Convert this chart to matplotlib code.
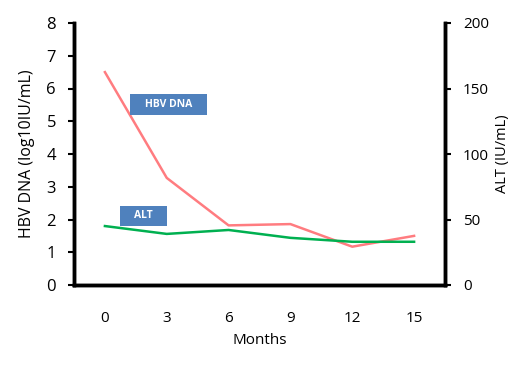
import matplotlib.pyplot as plt
from matplotlib.patches import Rectangle

months = ["0", "3", "6", "9", "12", "15"]
hbv_dna = [6.5, 3.27, 1.82, 1.86, 1.17, 1.5]
alt = [45, 39, 42, 36, 33, 33]

plt.rcParams["font.family"] = ["Open Sans", "DejaVu Sans"]

fig = plt.figure(figsize=(5.3, 3.75), dpi=100)
ax = fig.add_axes([74 / 530, 1 - 285 / 375, (445 - 74) / 530, (285 - 23) / 375])
ax2 = ax.twinx()

x = range(len(months))
ax.plot(x, hbv_dna, color="#FF7C80", lw=1.8)
ax2.plot(x, alt, color="#00B050", lw=1.8)

ax.set_xlim(-0.5, len(months) - 0.5)
ax.set_ylim(0, 8)
ax2.set_ylim(0, 200)
ax.set_xticks(list(x))
ax.set_xticklabels(months)
ax.set_yticks(range(0, 9))
ax2.set_yticks(range(0, 201, 50))

for a in (ax, ax2):
    for s in a.spines.values():
        s.set_linewidth(2.5)
    a.spines["top"].set_visible(False)
ax.tick_params(axis="y", length=4, width=1.5, labelsize=12, pad=9)
ax2.tick_params(axis="y", length=4, width=1.5, labelsize=11, pad=9)
ax.tick_params(axis="x", length=0, pad=19, labelsize=11)

ax.set_ylabel("HBV DNA (log10IU/mL)", fontsize=11.5, labelpad=8)
ax2.set_ylabel("ALT (IU/mL)", fontsize=10.5, labelpad=4)
ax.set_xlabel("Months", fontsize=11, labelpad=5)

# label boxes
for (x0, y0, w, h, label) in [(0.151, 0.649, 0.207, 0.08, "HBV DNA"),
                              (0.124, 0.225, 0.127, 0.077, "ALT")]:
    ax.add_patch(Rectangle((x0, y0), w, h, transform=ax.transAxes,
                           fc="#4F81BD", ec="none", zorder=3))
    ax.text(x0 + w / 2, y0 + h / 2, label, transform=ax.transAxes,
            color="white", fontsize=7.5, fontweight="bold",
            ha="center", va="center", zorder=4)

fig.savefig("out.png", dpi=100)
